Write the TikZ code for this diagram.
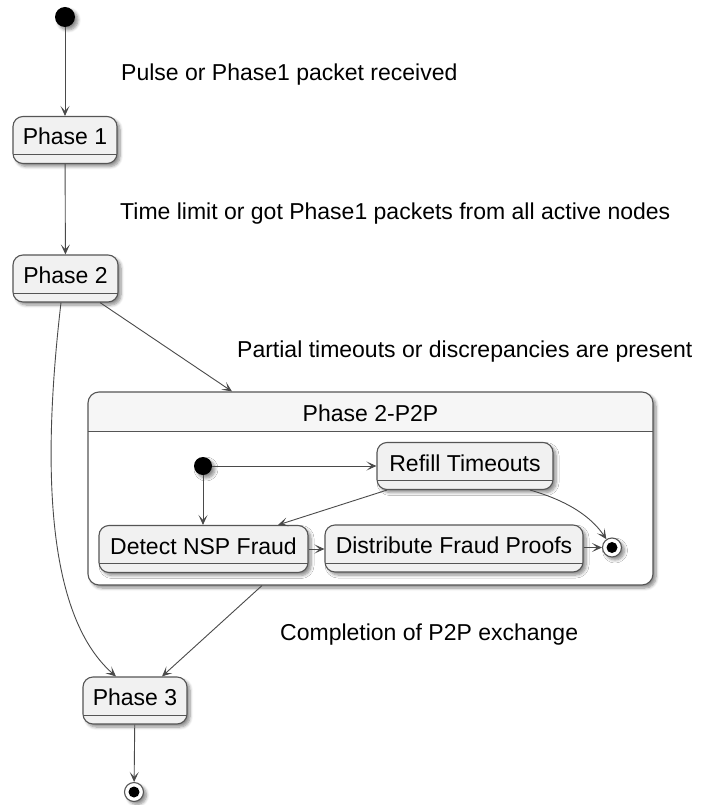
\documentclass[tikz,border=0pt]{standalone}
\usepackage{fontspec}
\setmainfont{Liberation Sans}
\usetikzlibrary{arrows.meta,shadows.blur}

\definecolor{linegray}{HTML}{555555}
\definecolor{arrowgray}{HTML}{4A4A4A}
\definecolor{statefill}{HTML}{F1F1F1}
\definecolor{headfill}{HTML}{F6F6F6}

\tikzset{
  softshadow/.style={blur shadow={shadow xshift=3pt,shadow yshift=-3pt,
      shadow blur radius=3pt,shadow blur steps=6,shadow opacity=45}},
  statebox/.style={draw=linegray, line width=1.1pt, fill=statefill,
    rounded corners=10pt, minimum height=47pt, inner sep=0pt,
    text height=16pt, text depth=6pt, softshadow,
    path picture={\draw[draw=linegray, line width=1pt, sharp corners]
      ([yshift=9pt]path picture bounding box.south west) --
      ([yshift=9pt]path picture bounding box.south east);}},
  compbox/.style={draw=linegray, line width=1.1pt, fill=white,
    rounded corners=11pt, inner sep=0pt, softshadow,
    path picture={
      \fill[headfill, sharp corners] (path picture bounding box.north west)
        rectangle ([yshift=-39pt]path picture bounding box.north east);
      \draw[draw=linegray, line width=1pt, sharp corners]
        ([yshift=-39pt]path picture bounding box.north west) --
        ([yshift=-39pt]path picture bounding box.north east);}},
  initdot/.style={circle, fill=black, inner sep=0pt, softshadow},
  finaldot/.style={circle, draw=linegray, line width=1.1pt, fill=white,
    inner sep=0pt, minimum size=19pt, softshadow,
    path picture={\fill[black] (path picture bounding box.center) circle (5.5pt);}},
  arr/.style={draw=arrowgray, line width=0.9pt,
    -{Stealth[length=10pt,width=9pt,inset=5pt]}},
  lbl/.style={anchor=base west, inner sep=0pt},
}

\begin{document}
\begin{tikzpicture}[x=1pt, y=-1pt, font=\fontsize{23}{27}\selectfont]
\useasboundingbox (0,0) rectangle (701,805);

% top-level states
\node[initdot, minimum size=20pt] (init) at (65,17) {};
\node[statebox, minimum width=104pt] (p1) at (65,140) {Phase 1};
\node[statebox, minimum width=105pt] (p2) at (65.5,278.5) {Phase 2};

% composite state with its substates
\node[compbox, minimum width=565pt, minimum height=193pt] (comp) at (370.5,488.5) {};
\node[anchor=base, inner sep=0pt] (ctitle) at (370.5,421) {Phase 2-P2P};

\node[initdot, minimum size=18pt] (iinit) at (203,466) {};
\node[statebox, minimum width=176pt] (refill) at (465,466) {Refill Timeouts};
\node[statebox, minimum width=209pt] (detect) at (203.5,549) {Detect NSP Fraud};
\node[statebox, minimum width=258pt] (distrib) at (454,548.5) {Distribute Fraud Proofs};
\node[finaldot] (ifinal) at (612,547.5) {};

\node[statebox, minimum width=104pt] (p3) at (135,700.5) {Phase 3};
\node[finaldot] (final) at (134,792) {};

% transitions
\draw[arr] (init) -- (p1);
\draw[arr] (p1) -- (p2);
\draw[arr] ([xshift=34.5pt]p2.south) -- ([xshift=-138.5pt]comp.north);
\draw[arr] ([xshift=-4.5pt]p2.south) .. controls (45,440) and (40,610) .. ([xshift=-19pt]p3.north);
\draw[arr] ([xshift=-108.5pt]comp.south) -- ([xshift=27pt]p3.north);
\draw[arr] (p3) -- (final);

\draw[arr] (iinit) -- (refill.west);
\draw[arr] (iinit) -- (iinit |- detect.north);
\draw[arr] ([xshift=-78pt]refill.south) -- ([xshift=74.5pt]detect.north);
\draw[arr] ([xshift=65pt]refill.south) .. controls (565,500) and (590,515) .. (ifinal);
\draw[arr] (detect.east) -- (detect.east -| distrib.west);
\draw[arr] (distrib.east |- ifinal) -- (ifinal);

% transition labels
\node[lbl] (l1) at (121,81) {Pulse or Phase1 packet received};
\node[lbl] (l2) at (120,219) {Time limit or got Phase1 packets from all active nodes};
\node[lbl] (l3) at (237,357) {Partial timeouts or discrepancies are present};
\node[lbl] (l4) at (280,640) {Completion of P2P exchange};
\end{tikzpicture}
\end{document}
